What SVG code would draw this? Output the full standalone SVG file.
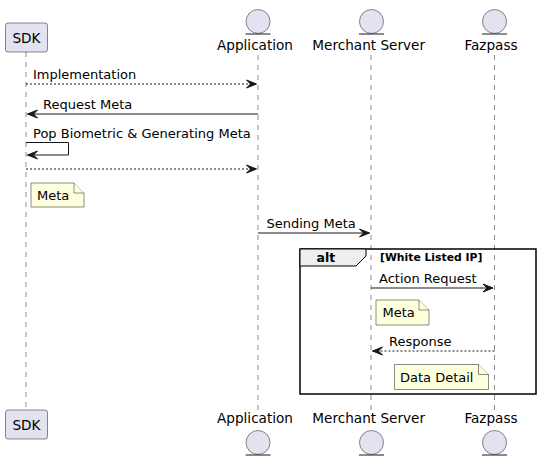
<svg xmlns="http://www.w3.org/2000/svg" width="540" height="462" viewBox="0 0 540 462">
<defs>
<style>
text{font-family:"DejaVu Sans",sans-serif;fill:#000}
.pt{font-size:13.6px}
.msg{font-size:13px}
.box{fill:#E2E2F0;stroke:#181818;stroke-width:0.5}
.ent{fill:#E2E2F0;stroke:#181818;stroke-width:0.5}
.life{stroke:#181818;stroke-width:0.5;stroke-dasharray:5,5;fill:none}
.note{fill:#FEFFDD;stroke:#181818;stroke-width:0.5}
.ln{stroke:#181818;stroke-width:1;fill:none}
.dash{stroke-dasharray:2,2}
</style>
<marker id="arr" viewBox="-1 -1 12 10" refX="10" refY="4" markerWidth="12" markerHeight="10" markerUnits="userSpaceOnUse" orient="auto">
<path d="M0,0 L10,4 L0,8 L4,4 Z" fill="#181818" stroke="#181818" stroke-width="1" stroke-linejoin="miter"/>
</marker>
</defs>
<rect width="540" height="462" fill="#FFFFFF"/>
<g id="lifelines">
<line class="life" x1="26" y1="52" x2="26" y2="410"/>
<line class="life" x1="258" y1="55" x2="258" y2="410"/>
<line class="life" x1="371" y1="55" x2="371" y2="410"/>
<line class="life" x1="494.5" y1="55" x2="494.5" y2="410"/>
</g>
<g id="SDK">
<rect class="box" x="5.5" y="23" width="42" height="29" rx="2.5"/>
<text class="pt" x="26.5" y="42.5" text-anchor="middle">SDK</text>
<rect class="box" x="5.5" y="410" width="42" height="29" rx="2.5"/>
<text class="pt" x="26.5" y="429.5" text-anchor="middle">SDK</text>
</g>
<g id="Application">
<circle class="ent" cx="258" cy="21.5" r="12"/>
<line class="ln" x1="245.5" y1="34" x2="270.5" y2="34" stroke-width="0.5"/>
<text class="pt" x="255" y="50" text-anchor="middle">Application</text>
<text class="pt" x="255" y="423" text-anchor="middle">Application</text>
<circle class="ent" cx="258" cy="442.5" r="12"/>
<line class="ln" x1="245.5" y1="455" x2="270.5" y2="455" stroke-width="0.5"/>
</g>
<g id="MerchantServer">
<circle class="ent" cx="371.5" cy="21.5" r="12"/>
<line class="ln" x1="359" y1="34" x2="384" y2="34" stroke-width="0.5"/>
<text class="pt" x="368.7" y="50" text-anchor="middle">Merchant Server</text>
<text class="pt" x="368.7" y="423" text-anchor="middle">Merchant Server</text>
<circle class="ent" cx="371.5" cy="442.5" r="12"/>
<line class="ln" x1="359" y1="455" x2="384" y2="455" stroke-width="0.5"/>
</g>
<g id="Fazpass">
<circle class="ent" cx="494.5" cy="21.5" r="12"/>
<line class="ln" x1="482" y1="34" x2="507" y2="34" stroke-width="0.5"/>
<text class="pt" x="491" y="50" text-anchor="middle">Fazpass</text>
<text class="pt" x="491" y="423" text-anchor="middle">Fazpass</text>
<circle class="ent" cx="494.5" cy="442.5" r="12"/>
<line class="ln" x1="482" y1="455" x2="507" y2="455" stroke-width="0.5"/>
</g>
<g id="alt">
<rect x="300" y="249" width="236" height="145" fill="none" stroke="#000" stroke-width="1.5"/>
<path d="M300,249 L366,249 L366,256 L356,266 L300,266 Z" fill="#EEEEEE" stroke="#000" stroke-width="1"/>
<text x="316.5" y="262" style="font-size:12.5px;font-weight:bold">alt</text>
<text x="380" y="261" style="font-size:10.8px;font-weight:bold">[White Listed IP]</text>
</g>
<g id="connectors">
<line class="ln dash" x1="26" y1="84" x2="256.5" y2="84" marker-end="url(#arr)"/>
<text class="msg" x="33" y="79">Implementation</text>
<line class="ln" x1="258" y1="114" x2="27.5" y2="114" marker-end="url(#arr)"/>
<text class="msg" x="43" y="108.5">Request Meta</text>
<path class="ln" d="M26,142.5 L68.5,142.5 L68.5,155 L27.5,155" marker-end="url(#arr)"/>
<text class="msg" x="33" y="137.5">Pop Biometric &amp; Generating Meta</text>
<line class="ln dash" x1="26" y1="169" x2="256.5" y2="169" marker-end="url(#arr)"/>
<line class="ln" x1="258" y1="233" x2="369.5" y2="233" marker-end="url(#arr)"/>
<text class="msg" x="266.5" y="228">Sending Meta</text>
<line class="ln" x1="371" y1="288" x2="493" y2="288" marker-end="url(#arr)"/>
<text class="msg" x="379" y="282.5">Action Request</text>
<line class="ln dash" x1="494.5" y1="351" x2="372.5" y2="351" marker-end="url(#arr)"/>
<text class="msg" x="389" y="346">Response</text>
</g>
<g id="note1">
<path class="note" d="M31,183 L74,183 L84,193 L84,207 L31,207 Z"/>
<path class="note" d="M74,183 L74,193 L84,193"/>
<text class="msg" x="37" y="200">Meta</text>
</g>
<g id="note2">
<path class="note" d="M376,300 L419,300 L429,310 L429,325 L376,325 Z"/>
<path class="note" d="M419,300 L419,310 L429,310"/>
<text class="msg" x="382.5" y="317">Meta</text>
</g>
<g id="note3">
<path class="note" d="M394.5,364.5 L478.5,364.5 L488.5,374.5 L488.5,389.5 L394.5,389.5 Z"/>
<path class="note" d="M478.5,364.5 L478.5,374.5 L488.5,374.5"/>
<text class="msg" x="400" y="381.5">Data Detail</text>
</g>
</svg>
